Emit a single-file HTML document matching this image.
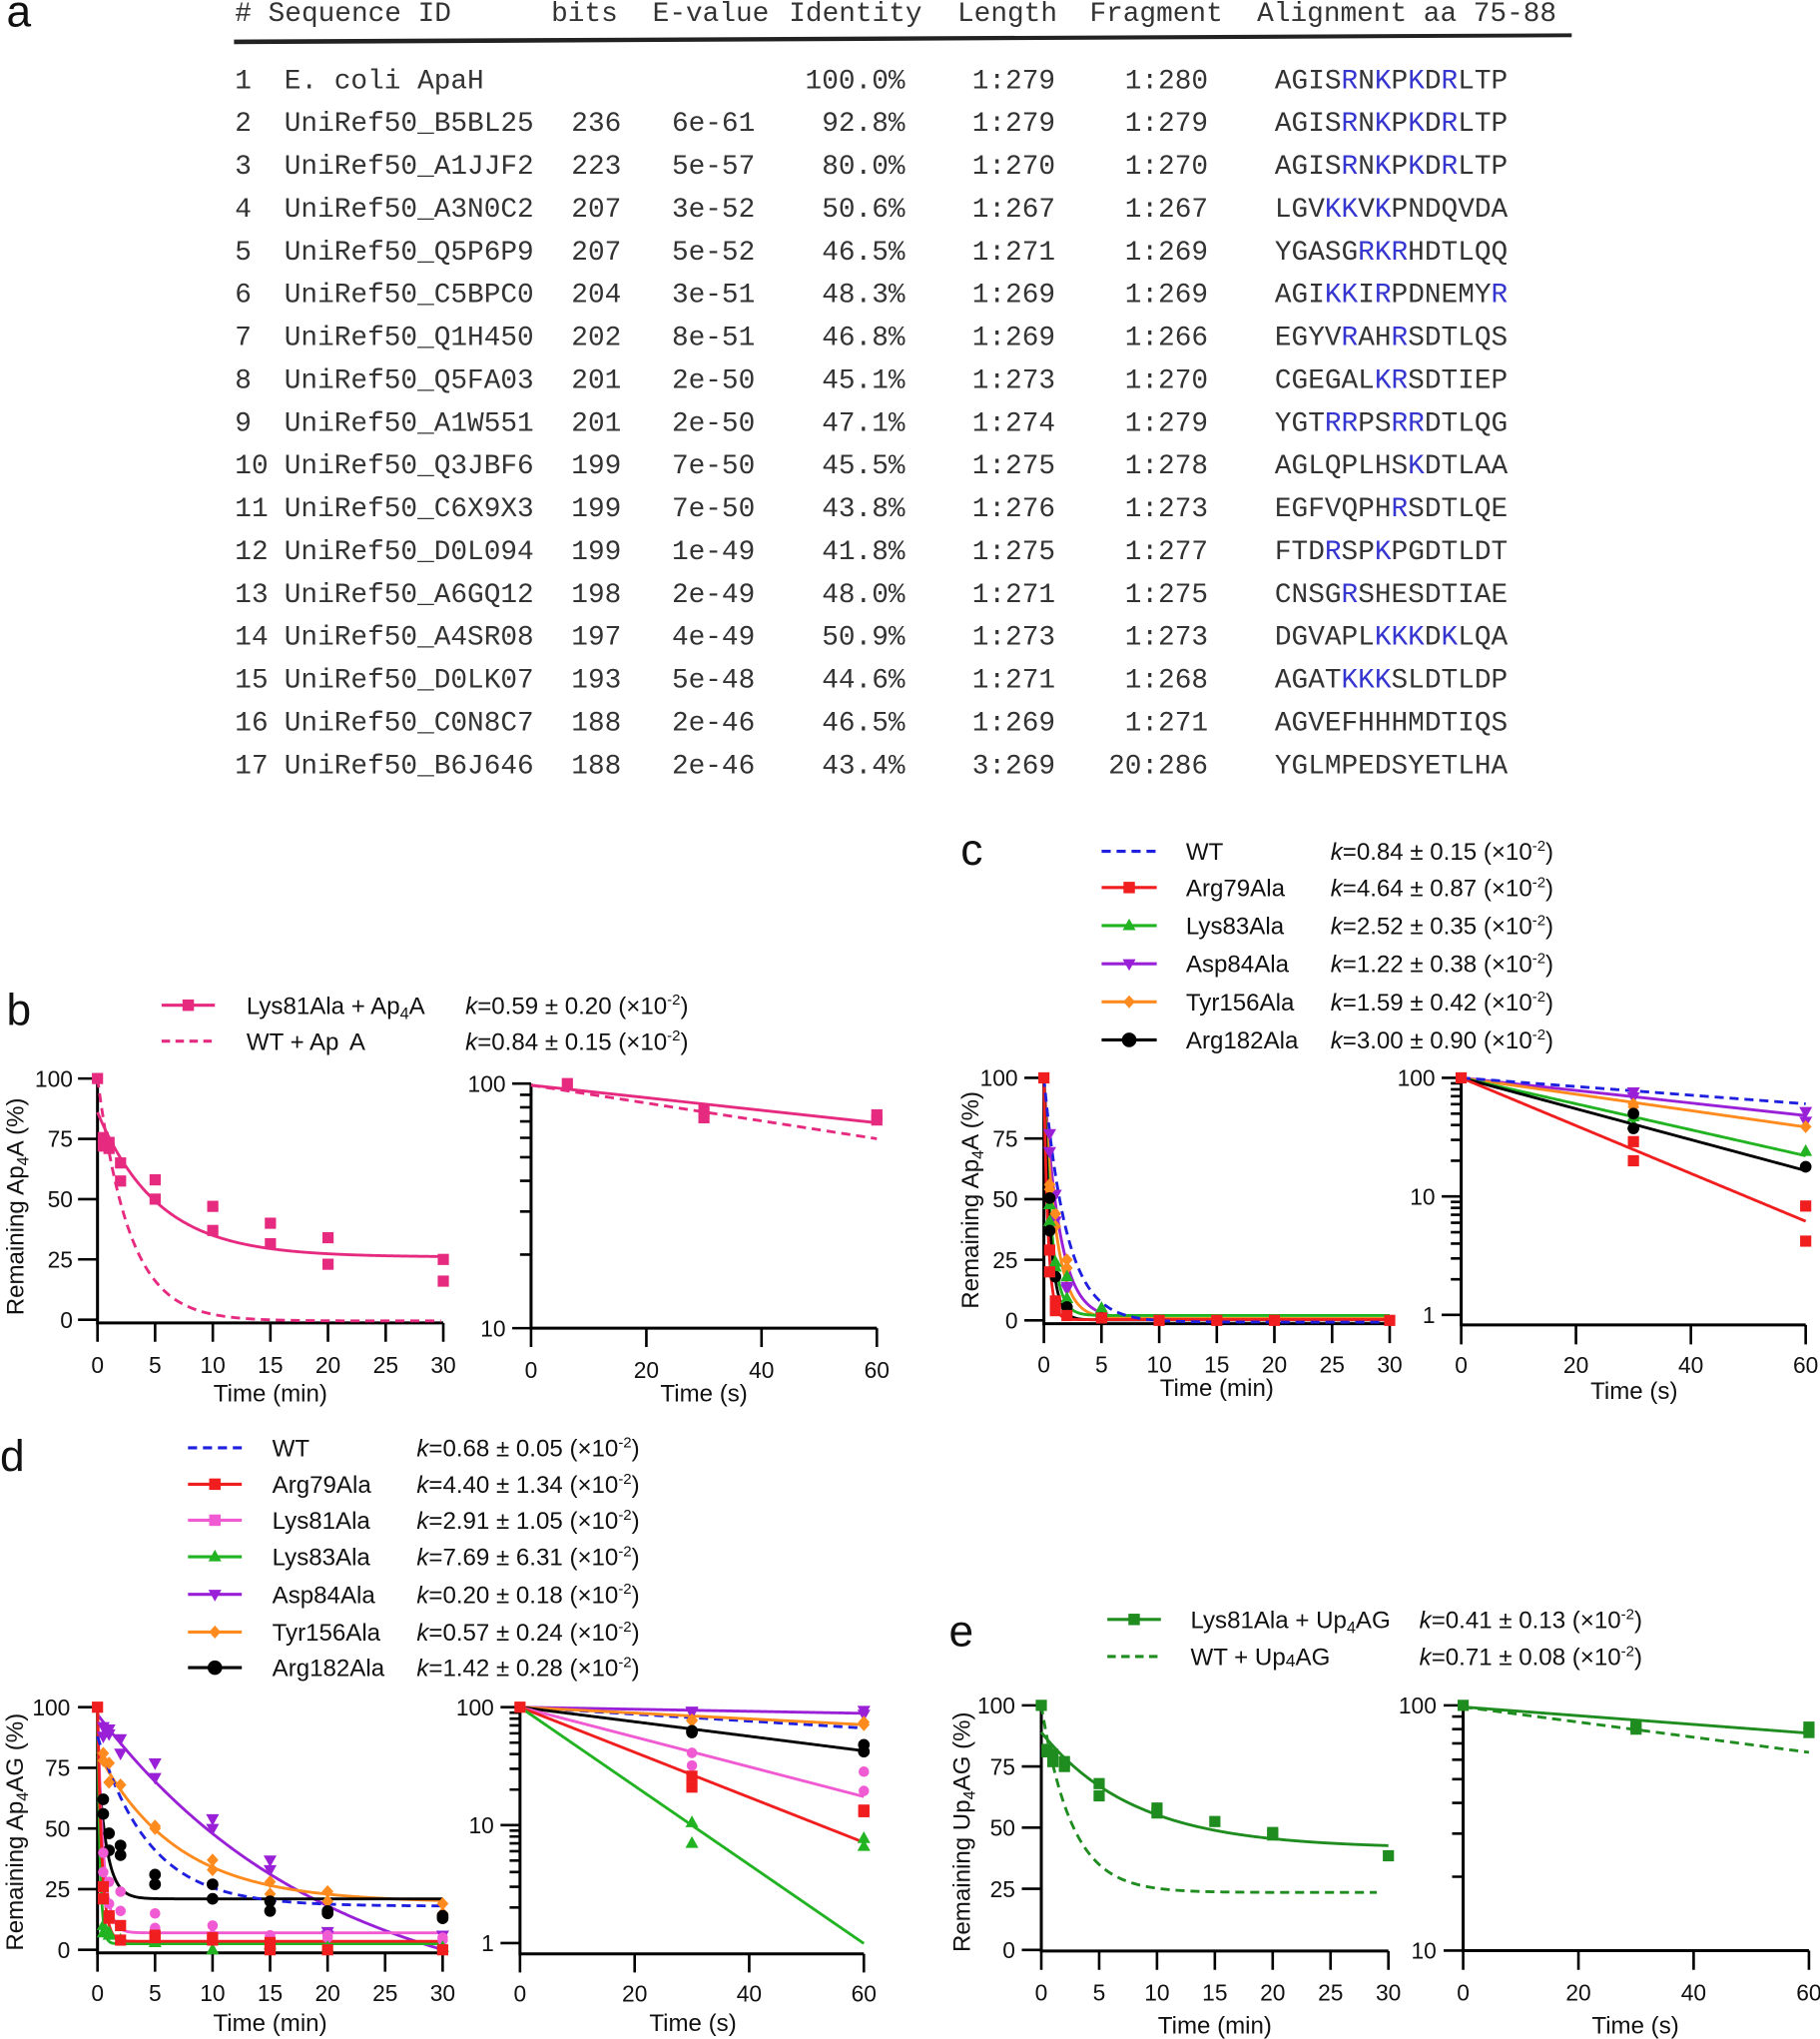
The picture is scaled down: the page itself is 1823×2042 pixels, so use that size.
<!DOCTYPE html>
<html><head><meta charset="utf-8">
<style>
html,body{margin:0;padding:0;background:#fff;}
svg{display:block;}
.t{font-family:"Liberation Mono","Courier New",monospace;font-size:21.33px;fill:#333;}
.b{fill:#3535d0;}
.s{font-family:"Liberation Sans",Arial,sans-serif;fill:#111;}
.tk{font-size:17.5px;}
.ti{font-size:18.5px;}
.lg{font-size:18.5px;}
.pl{font-size:34px;}
.ax{fill:none;stroke:#000;stroke-width:2.3;}
.tm{fill:none;stroke:#000;stroke-width:2;}
</style></head><body>
<svg width="1823" height="2042" viewBox="0 0 1400 1568.2" xmlns="http://www.w3.org/2000/svg">
<rect x="0" y="0" width="1400" height="1568.2" fill="#fff"/>

<!-- Panel letters -->
<text class="s pl" x="5" y="20.5">a</text>
<text class="s pl" x="5" y="788.5">b</text>
<text class="s pl" x="739" y="665">c</text>
<text class="s pl" x="0" y="1131.7">d</text>
<text class="s pl" x="730" y="1266">e</text>

<!-- Table -->
<text class="t" y="16"><tspan x="180.7">#</tspan><tspan x="206.3">Sequence ID</tspan><tspan x="424">bits</tspan><tspan x="502">E-value</tspan><tspan x="606.9">Identity</tspan><tspan x="736.5">Length</tspan><tspan x="838.2">Fragment</tspan><tspan x="967">Alignment aa 75-88</tspan></text>
<polygon points="180,30.4 1209,25.6 1209,28.6 180,34" fill="#222"/>

<text class="t" y="67.8"><tspan x="180.7">1</tspan><tspan x="218.7">E. coli ApaH</tspan><tspan x="619.4">100.0%</tspan><tspan x="747.8">1:279</tspan><tspan x="865.3">1:280</tspan><tspan x="980.6">AGIS</tspan><tspan class="b">R</tspan><tspan>N</tspan><tspan class="b">K</tspan><tspan>P</tspan><tspan class="b">K</tspan><tspan>D</tspan><tspan class="b">R</tspan><tspan>LTP</tspan></text>
<text class="t" y="100.73"><tspan x="180.7">2</tspan><tspan x="218.7">UniRef50_B5BL25</tspan><tspan x="439.5">236</tspan><tspan x="516.8">6e-61</tspan><tspan x="632.2">92.8%</tspan><tspan x="747.8">1:279</tspan><tspan x="865.3">1:279</tspan><tspan x="980.6">AGIS</tspan><tspan class="b">R</tspan><tspan>N</tspan><tspan class="b">K</tspan><tspan>P</tspan><tspan class="b">K</tspan><tspan>D</tspan><tspan class="b">R</tspan><tspan>LTP</tspan></text>
<text class="t" y="133.66"><tspan x="180.7">3</tspan><tspan x="218.7">UniRef50_A1JJF2</tspan><tspan x="439.5">223</tspan><tspan x="516.8">5e-57</tspan><tspan x="632.2">80.0%</tspan><tspan x="747.8">1:270</tspan><tspan x="865.3">1:270</tspan><tspan x="980.6">AGIS</tspan><tspan class="b">R</tspan><tspan>N</tspan><tspan class="b">K</tspan><tspan>P</tspan><tspan class="b">K</tspan><tspan>D</tspan><tspan class="b">R</tspan><tspan>LTP</tspan></text>
<text class="t" y="166.59"><tspan x="180.7">4</tspan><tspan x="218.7">UniRef50_A3N0C2</tspan><tspan x="439.5">207</tspan><tspan x="516.8">3e-52</tspan><tspan x="632.2">50.6%</tspan><tspan x="747.8">1:267</tspan><tspan x="865.3">1:267</tspan><tspan x="980.6">LGV</tspan><tspan class="b">KK</tspan><tspan>V</tspan><tspan class="b">K</tspan><tspan>PNDQVDA</tspan></text>
<text class="t" y="199.52"><tspan x="180.7">5</tspan><tspan x="218.7">UniRef50_Q5P6P9</tspan><tspan x="439.5">207</tspan><tspan x="516.8">5e-52</tspan><tspan x="632.2">46.5%</tspan><tspan x="747.8">1:271</tspan><tspan x="865.3">1:269</tspan><tspan x="980.6">YGASG</tspan><tspan class="b">RKR</tspan><tspan>HDTLQQ</tspan></text>
<text class="t" y="232.45"><tspan x="180.7">6</tspan><tspan x="218.7">UniRef50_C5BPC0</tspan><tspan x="439.5">204</tspan><tspan x="516.8">3e-51</tspan><tspan x="632.2">48.3%</tspan><tspan x="747.8">1:269</tspan><tspan x="865.3">1:269</tspan><tspan x="980.6">AGI</tspan><tspan class="b">KK</tspan><tspan>I</tspan><tspan class="b">R</tspan><tspan>PDNEMY</tspan><tspan class="b">R</tspan></text>
<text class="t" y="265.38"><tspan x="180.7">7</tspan><tspan x="218.7">UniRef50_Q1H450</tspan><tspan x="439.5">202</tspan><tspan x="516.8">8e-51</tspan><tspan x="632.2">46.8%</tspan><tspan x="747.8">1:269</tspan><tspan x="865.3">1:266</tspan><tspan x="980.6">EGYV</tspan><tspan class="b">R</tspan><tspan>AH</tspan><tspan class="b">R</tspan><tspan>SDTLQS</tspan></text>
<text class="t" y="298.31"><tspan x="180.7">8</tspan><tspan x="218.7">UniRef50_Q5FA03</tspan><tspan x="439.5">201</tspan><tspan x="516.8">2e-50</tspan><tspan x="632.2">45.1%</tspan><tspan x="747.8">1:273</tspan><tspan x="865.3">1:270</tspan><tspan x="980.6">CGEGAL</tspan><tspan class="b">KR</tspan><tspan>SDTIEP</tspan></text>
<text class="t" y="331.24"><tspan x="180.7">9</tspan><tspan x="218.7">UniRef50_A1W551</tspan><tspan x="439.5">201</tspan><tspan x="516.8">2e-50</tspan><tspan x="632.2">47.1%</tspan><tspan x="747.8">1:274</tspan><tspan x="865.3">1:279</tspan><tspan x="980.6">YGT</tspan><tspan class="b">RR</tspan><tspan>PS</tspan><tspan class="b">RR</tspan><tspan>DTLQG</tspan></text>
<text class="t" y="364.17"><tspan x="180.7">10</tspan><tspan x="218.7">UniRef50_Q3JBF6</tspan><tspan x="439.5">199</tspan><tspan x="516.8">7e-50</tspan><tspan x="632.2">45.5%</tspan><tspan x="747.8">1:275</tspan><tspan x="865.3">1:278</tspan><tspan x="980.6">AGLQPLHS</tspan><tspan class="b">K</tspan><tspan>DTLAA</tspan></text>
<text class="t" y="397.1"><tspan x="180.7">11</tspan><tspan x="218.7">UniRef50_C6X9X3</tspan><tspan x="439.5">199</tspan><tspan x="516.8">7e-50</tspan><tspan x="632.2">43.8%</tspan><tspan x="747.8">1:276</tspan><tspan x="865.3">1:273</tspan><tspan x="980.6">EGFVQPH</tspan><tspan class="b">R</tspan><tspan>SDTLQE</tspan></text>
<text class="t" y="430.03"><tspan x="180.7">12</tspan><tspan x="218.7">UniRef50_D0L094</tspan><tspan x="439.5">199</tspan><tspan x="516.8">1e-49</tspan><tspan x="632.2">41.8%</tspan><tspan x="747.8">1:275</tspan><tspan x="865.3">1:277</tspan><tspan x="980.6">FTD</tspan><tspan class="b">R</tspan><tspan>SP</tspan><tspan class="b">K</tspan><tspan>PGDTLDT</tspan></text>
<text class="t" y="462.96"><tspan x="180.7">13</tspan><tspan x="218.7">UniRef50_A6GQ12</tspan><tspan x="439.5">198</tspan><tspan x="516.8">2e-49</tspan><tspan x="632.2">48.0%</tspan><tspan x="747.8">1:271</tspan><tspan x="865.3">1:275</tspan><tspan x="980.6">CNSG</tspan><tspan class="b">R</tspan><tspan>SHESDTIAE</tspan></text>
<text class="t" y="495.89"><tspan x="180.7">14</tspan><tspan x="218.7">UniRef50_A4SR08</tspan><tspan x="439.5">197</tspan><tspan x="516.8">4e-49</tspan><tspan x="632.2">50.9%</tspan><tspan x="747.8">1:273</tspan><tspan x="865.3">1:273</tspan><tspan x="980.6">DGVAPL</tspan><tspan class="b">KKK</tspan><tspan>D</tspan><tspan class="b">K</tspan><tspan>LQA</tspan></text>
<text class="t" y="528.82"><tspan x="180.7">15</tspan><tspan x="218.7">UniRef50_D0LK07</tspan><tspan x="439.5">193</tspan><tspan x="516.8">5e-48</tspan><tspan x="632.2">44.6%</tspan><tspan x="747.8">1:271</tspan><tspan x="865.3">1:268</tspan><tspan x="980.6">AGAT</tspan><tspan class="b">KKK</tspan><tspan>SLDTLDP</tspan></text>
<text class="t" y="561.75"><tspan x="180.7">16</tspan><tspan x="218.7">UniRef50_C0N8C7</tspan><tspan x="439.5">188</tspan><tspan x="516.8">2e-46</tspan><tspan x="632.2">46.5%</tspan><tspan x="747.8">1:269</tspan><tspan x="865.3">1:271</tspan><tspan x="980.6">AGVEFHHHMDTIQS</tspan></text>
<text class="t" y="594.68"><tspan x="180.7">17</tspan><tspan x="218.7">UniRef50_B6J646</tspan><tspan x="439.5">188</tspan><tspan x="516.8">2e-46</tspan><tspan x="632.2">43.4%</tspan><tspan x="747.8">3:269</tspan><tspan x="852.5">20:286</tspan><tspan x="980.6">YGLMPEDSYETLHA</tspan></text>

<!-- ===== Legends ===== -->
<!-- b -->
<path d="M124.3 773.1H165.3" stroke="#e62a80" stroke-width="2.4"/>
<rect x="140.4" y="768.7" width="8.8" height="8.8" fill="#e62a80"/>
<path d="M124.3 800.8H165.3" stroke="#e62a80" stroke-width="2.4" stroke-dasharray="6.5,4.2"/>
<text class="s lg" x="189.6" y="779.7">Lys81Ala + Ap<tspan font-size="12.5" dy="4">4</tspan><tspan dy="-4">A</tspan></text>
<text class="s lg" x="189.6" y="807.4">WT + Ap<tspan dx="8">A</tspan></text>
<text class="s lg" x="358" y="779.7"><tspan font-style="italic">k</tspan>=0.59 ± 0.20 (×10<tspan font-size="11.5" dy="-7">-2</tspan><tspan dy="7">)</tspan></text>
<text class="s lg" x="358" y="807.4"><tspan font-style="italic">k</tspan>=0.84 ± 0.15 (×10<tspan font-size="11.5" dy="-7">-2</tspan><tspan dy="7">)</tspan></text>

<!-- c -->
<path d="M847.4 654.7H889.8" stroke="#1f1fe0" stroke-width="2.4" stroke-dasharray="7,4.5"/>
<path d="M847.4 682.6H889.8" stroke="#f01e1e" stroke-width="2.4"/>
<rect x="864.2" y="678.2" width="8.8" height="8.8" fill="#f01e1e"/>
<path d="M847.4 711.9H889.8" stroke="#22b322" stroke-width="2.4"/>
<polygon points="868.6,706.4 863.6,715.4 873.6,715.4" fill="#22b322"/>
<path d="M847.4 741.2H889.8" stroke="#9a20d8" stroke-width="2.4"/>
<polygon points="868.6,746.7 863.6,737.7 873.6,737.7" fill="#9a20d8"/>
<path d="M847.4 770.5H889.8" stroke="#ff8a1e" stroke-width="2.4"/>
<polygon points="868.6,765.5 873.1,770.5 868.6,775.5 864.1,770.5" fill="#ff8a1e"/>
<path d="M847.4 799.8H889.8" stroke="#000" stroke-width="2.4"/>
<circle cx="868.6" cy="799.8" r="5.6" fill="#000"/>
<text class="s lg" x="912.3" y="661.3">WT</text>
<text class="s lg" x="912.3" y="689.2">Arg79Ala</text>
<text class="s lg" x="912.3" y="718.5">Lys83Ala</text>
<text class="s lg" x="912.3" y="747.8">Asp84Ala</text>
<text class="s lg" x="912.3" y="777.1">Tyr156Ala</text>
<text class="s lg" x="912.3" y="806.4">Arg182Ala</text>
<text class="s lg" x="1023.5" y="661.3"><tspan font-style="italic">k</tspan>=0.84 ± 0.15 (×10<tspan font-size="11.5" dy="-7">-2</tspan><tspan dy="7">)</tspan></text>
<text class="s lg" x="1023.5" y="689.2"><tspan font-style="italic">k</tspan>=4.64 ± 0.87 (×10<tspan font-size="11.5" dy="-7">-2</tspan><tspan dy="7">)</tspan></text>
<text class="s lg" x="1023.5" y="718.5"><tspan font-style="italic">k</tspan>=2.52 ± 0.35 (×10<tspan font-size="11.5" dy="-7">-2</tspan><tspan dy="7">)</tspan></text>
<text class="s lg" x="1023.5" y="747.8"><tspan font-style="italic">k</tspan>=1.22 ± 0.38 (×10<tspan font-size="11.5" dy="-7">-2</tspan><tspan dy="7">)</tspan></text>
<text class="s lg" x="1023.5" y="777.1"><tspan font-style="italic">k</tspan>=1.59 ± 0.42 (×10<tspan font-size="11.5" dy="-7">-2</tspan><tspan dy="7">)</tspan></text>
<text class="s lg" x="1023.5" y="806.4"><tspan font-style="italic">k</tspan>=3.00 ± 0.90 (×10<tspan font-size="11.5" dy="-7">-2</tspan><tspan dy="7">)</tspan></text>

<!-- d -->
<path d="M144.6 1113.5H186" stroke="#1f1fe0" stroke-width="2.4" stroke-dasharray="7,4.5"/>
<path d="M144.6 1141.5H186" stroke="#f01e1e" stroke-width="2.4"/>
<rect x="160.9" y="1137.1" width="8.8" height="8.8" fill="#f01e1e"/>
<path d="M144.6 1169.2H186" stroke="#f05ad2" stroke-width="2.4"/>
<rect x="160.9" y="1164.8" width="8.8" height="8.8" fill="#f05ad2"/>
<path d="M144.6 1197.3H186" stroke="#22b322" stroke-width="2.4"/>
<polygon points="165.3,1191.8 160.3,1200.8 170.3,1200.8" fill="#22b322"/>
<path d="M144.6 1226.2H186" stroke="#9a20d8" stroke-width="2.4"/>
<polygon points="165.3,1231.7 160.3,1222.7 170.3,1222.7" fill="#9a20d8"/>
<path d="M144.6 1255.2H186" stroke="#ff8a1e" stroke-width="2.4"/>
<polygon points="165.3,1250.2 169.8,1255.2 165.3,1260.2 160.8,1255.2" fill="#ff8a1e"/>
<path d="M144.6 1282.6H186" stroke="#000" stroke-width="2.4"/>
<circle cx="165.3" cy="1282.6" r="5.6" fill="#000"/>
<text class="s lg" x="209.4" y="1120.1">WT</text>
<text class="s lg" x="209.4" y="1148.1">Arg79Ala</text>
<text class="s lg" x="209.4" y="1175.8">Lys81Ala</text>
<text class="s lg" x="209.4" y="1203.9">Lys83Ala</text>
<text class="s lg" x="209.4" y="1232.8">Asp84Ala</text>
<text class="s lg" x="209.4" y="1261.8">Tyr156Ala</text>
<text class="s lg" x="209.4" y="1289.2">Arg182Ala</text>
<text class="s lg" x="320.5" y="1120.1"><tspan font-style="italic">k</tspan>=0.68 ± 0.05 (×10<tspan font-size="11.5" dy="-7">-2</tspan><tspan dy="7">)</tspan></text>
<text class="s lg" x="320.5" y="1148.1"><tspan font-style="italic">k</tspan>=4.40 ± 1.34 (×10<tspan font-size="11.5" dy="-7">-2</tspan><tspan dy="7">)</tspan></text>
<text class="s lg" x="320.5" y="1175.8"><tspan font-style="italic">k</tspan>=2.91 ± 1.05 (×10<tspan font-size="11.5" dy="-7">-2</tspan><tspan dy="7">)</tspan></text>
<text class="s lg" x="320.5" y="1203.9"><tspan font-style="italic">k</tspan>=7.69 ± 6.31 (×10<tspan font-size="11.5" dy="-7">-2</tspan><tspan dy="7">)</tspan></text>
<text class="s lg" x="320.5" y="1232.8"><tspan font-style="italic">k</tspan>=0.20 ± 0.18 (×10<tspan font-size="11.5" dy="-7">-2</tspan><tspan dy="7">)</tspan></text>
<text class="s lg" x="320.5" y="1261.8"><tspan font-style="italic">k</tspan>=0.57 ± 0.24 (×10<tspan font-size="11.5" dy="-7">-2</tspan><tspan dy="7">)</tspan></text>
<text class="s lg" x="320.5" y="1289.2"><tspan font-style="italic">k</tspan>=1.42 ± 0.28 (×10<tspan font-size="11.5" dy="-7">-2</tspan><tspan dy="7">)</tspan></text>

<!-- e -->
<path d="M851.8 1245.5H893" stroke="#1e8c1e" stroke-width="2.4"/>
<rect x="868" y="1241.1" width="8.8" height="8.8" fill="#1e8c1e"/>
<path d="M851.8 1274H893" stroke="#1e8c1e" stroke-width="2.4" stroke-dasharray="6.5,4.2"/>
<text class="s lg" x="915.8" y="1252.1">Lys81Ala + Up<tspan font-size="12.5" dy="4">4</tspan><tspan dy="-4">AG</tspan></text>
<text class="s lg" x="915.8" y="1280.6">WT + Up<tspan font-size="13.5" dy="1">4</tspan><tspan dy="-1">AG</tspan></text>
<text class="s lg" x="1091.8" y="1252.1"><tspan font-style="italic">k</tspan>=0.41 ± 0.13 (×10<tspan font-size="11.5" dy="-7">-2</tspan><tspan dy="7">)</tspan></text>
<text class="s lg" x="1091.8" y="1280.6"><tspan font-style="italic">k</tspan>=0.71 ± 0.08 (×10<tspan font-size="11.5" dy="-7">-2</tspan><tspan dy="7">)</tspan></text>

<!-- ===== Axes ===== -->
<!-- b left -->
<path class="ax" d="M75 829.5V1017.5H341"/>
<path class="tm" d="M60 829.5H75M60 875.9H75M60 922.3H75M60 968.6H75M60 1015H75M75 1017.5V1032M119.3 1017.5V1032M163.7 1017.5V1032M208 1017.5V1032M252.3 1017.5V1032M296.7 1017.5V1032M341 1017.5V1032"/>
<g class="s tk" text-anchor="end">
<text x="56" y="835.8">100</text><text x="56" y="882.2">75</text><text x="56" y="928.6">50</text><text x="56" y="974.9">25</text><text x="56" y="1021.3">0</text>
</g>
<g class="s tk" text-anchor="middle">
<text x="75" y="1056">0</text><text x="119.3" y="1056">5</text><text x="163.7" y="1056">10</text><text x="208" y="1056">15</text><text x="252.3" y="1056">20</text><text x="296.7" y="1056">25</text><text x="341" y="1056">30</text>
</g>
<text class="s ti" x="208" y="1078" text-anchor="middle">Time (min)</text>
<text class="s ti" transform="translate(18,928) rotate(-90)" text-anchor="middle">Remaining Ap<tspan font-size="12.5" dy="4">4</tspan><tspan dy="-4">A (%)</tspan></text>

<!-- b right -->
<path class="ax" d="M408.5 833.4V1021.5H674.5"/>
<path class="tm" d="M394 833.4H408.5M394 1021.5H408.5M400 842H408.5M400 851.6H408.5M400 862.5H408.5M400 875.1H408.5M400 890H408.5M400 908.2H408.5M400 931.8H408.5M400 964.9H408.5M408.5 1021.5V1036M497.2 1021.5V1036M585.8 1021.5V1036M674.5 1021.5V1036"/>
<g class="s tk" text-anchor="end"><text x="389" y="839.7">100</text><text x="389" y="1027.8">10</text></g>
<g class="s tk" text-anchor="middle"><text x="408.5" y="1060">0</text><text x="497.2" y="1060">20</text><text x="585.8" y="1060">40</text><text x="674.5" y="1060">60</text></g>
<text class="s ti" x="541.5" y="1078" text-anchor="middle">Time (s)</text>

<!-- c left -->
<path class="ax" d="M803 829V1018H1069"/>
<path class="tm" d="M788 829H803M788 875.6H803M788 922.3H803M788 968.9H803M788 1015.5H803M803 1018V1033M847.3 1018V1033M891.7 1018V1033M936 1018V1033M980.3 1018V1033M1024.7 1018V1033M1069 1018V1033"/>
<g class="s tk" text-anchor="end">
<text x="783" y="835.3">100</text><text x="783" y="881.9">75</text><text x="783" y="928.6">50</text><text x="783" y="975.2">25</text><text x="783" y="1021.8">0</text>
</g>
<g class="s tk" text-anchor="middle">
<text x="803" y="1055.5">0</text><text x="847.3" y="1055.5">5</text><text x="891.7" y="1055.5">10</text><text x="936" y="1055.5">15</text><text x="980.3" y="1055.5">20</text><text x="1024.7" y="1055.5">25</text><text x="1069" y="1055.5">30</text>
</g>
<text class="s ti" x="936" y="1073.5" text-anchor="middle">Time (min)</text>
<text class="s ti" transform="translate(752.5,923) rotate(-90)" text-anchor="middle">Remaining Ap<tspan font-size="12.5" dy="4">4</tspan><tspan dy="-4">A (%)</tspan></text>

<!-- c right -->
<path class="ax" d="M1124 829V1019H1389"/>
<path class="tm" d="M1109 829H1124M1109 920.2H1124M1109 1011.3H1124M1116 833.2H1124M1116 837.8H1124M1116 843.1H1124M1116 849.2H1124M1116 856.5H1124M1116 865.3H1124M1116 876.7H1124M1116 892.7H1124M1116 924.4H1124M1116 929H1124M1116 934.3H1124M1116 940.4H1124M1116 947.7H1124M1116 956.5H1124M1116 967.9H1124M1116 983.9H1124M1124 1019V1034M1212.3 1019V1034M1300.7 1019V1034M1389 1019V1034"/>
<g class="s tk" text-anchor="end"><text x="1104" y="835.3">100</text><text x="1104" y="926.5">10</text><text x="1104" y="1017.6">1</text></g>
<g class="s tk" text-anchor="middle"><text x="1124" y="1056">0</text><text x="1212.3" y="1056">20</text><text x="1300.7" y="1056">40</text><text x="1389" y="1056">60</text></g>
<text class="s ti" x="1257" y="1076" text-anchor="middle">Time (s)</text>

<!-- d left -->
<path class="ax" d="M75 1313V1502H340.5"/>
<path class="tm" d="M60 1313H75M60 1359.65H75M60 1406.3H75M60 1452.95H75M60 1499.6H75M75 1502V1516.5M119.25 1502V1516.5M163.5 1502V1516.5M207.75 1502V1516.5M252 1502V1516.5M296.25 1502V1516.5M340.5 1502V1516.5"/>
<g class="s tk" text-anchor="end">
<text x="54" y="1319.3">100</text><text x="54" y="1366">75</text><text x="54" y="1412.6">50</text><text x="54" y="1459.3">25</text><text x="54" y="1505.9">0</text>
</g>
<g class="s tk" text-anchor="middle">
<text x="75" y="1539">0</text><text x="119.25" y="1539">5</text><text x="163.5" y="1539">10</text><text x="207.75" y="1539">15</text><text x="252" y="1539">20</text><text x="296.25" y="1539">25</text><text x="340.5" y="1539">30</text>
</g>
<text class="s ti" x="207.75" y="1562" text-anchor="middle">Time (min)</text>
<text class="s ti" transform="translate(17.5,1409) rotate(-90)" text-anchor="middle">Remaining Ap<tspan font-size="12.5" dy="4">4</tspan><tspan dy="-4">AG (%)</tspan></text>

<!-- d right -->
<path class="ax" d="M400 1313V1502.7H664.5"/>
<path class="tm" d="M385 1313H400M385 1403.7H400M385 1494.4H400M392 1317.2H400M392 1321.8H400M392 1327H400M392 1333.1H400M392 1340.3H400M392 1349.1H400M392 1360.4H400M392 1376.4H400M392 1407.9H400M392 1412.5H400M392 1417.7H400M392 1423.8H400M392 1431H400M392 1439.8H400M392 1451.1H400M392 1467.1H400M400 1502.7V1517M488.2 1502.7V1517M576.3 1502.7V1517M664.5 1502.7V1517"/>
<g class="s tk" text-anchor="end"><text x="380" y="1319.3">100</text><text x="380" y="1410">10</text><text x="380" y="1500.7">1</text></g>
<g class="s tk" text-anchor="middle"><text x="400" y="1539.5">0</text><text x="488.2" y="1539.5">20</text><text x="576.3" y="1539.5">40</text><text x="664.5" y="1539.5">60</text></g>
<text class="s ti" x="533" y="1562" text-anchor="middle">Time (s)</text>

<!-- e left -->
<path class="ax" d="M801 1311.6V1500.5H1068"/>
<path class="tm" d="M786 1311.6H801M786 1358.6H801M786 1405.65H801M786 1452.7H801M786 1499.7H801M801 1500.5V1515M845.5 1500.5V1515M890 1500.5V1515M934.5 1500.5V1515M979 1500.5V1515M1023.5 1500.5V1515M1068 1500.5V1515"/>
<g class="s tk" text-anchor="end">
<text x="781" y="1317.9">100</text><text x="781" y="1364.9">75</text><text x="781" y="1412">50</text><text x="781" y="1459">25</text><text x="781" y="1506">0</text>
</g>
<g class="s tk" text-anchor="middle">
<text x="801" y="1538.5">0</text><text x="845.5" y="1538.5">5</text><text x="890" y="1538.5">10</text><text x="934.5" y="1538.5">15</text><text x="979" y="1538.5">20</text><text x="1023.5" y="1538.5">25</text><text x="1068" y="1538.5">30</text>
</g>
<text class="s ti" x="934.5" y="1564" text-anchor="middle">Time (min)</text>
<text class="s ti" transform="translate(746,1409) rotate(-90)" text-anchor="middle">Remaining Up<tspan font-size="12.5" dy="4">4</tspan><tspan dy="-4">AG (%)</tspan></text>

<!-- e right -->
<path class="ax" d="M1125.5 1311.6V1500.2H1391.5"/>
<path class="tm" d="M1110.5 1311.6H1125.5M1110.5 1500.2H1125.5M1117 1320.2H1125.5M1117 1329.9H1125.5M1117 1340.8H1125.5M1117 1353.4H1125.5M1117 1368.4H1125.5M1117 1386.6H1125.5M1117 1410.2H1125.5M1117 1443.4H1125.5M1125.5 1500.2V1515M1214.2 1500.2V1515M1302.8 1500.2V1515M1391.5 1500.2V1515"/>
<g class="s tk" text-anchor="end"><text x="1105" y="1317.9">100</text><text x="1105" y="1506.5">10</text></g>
<g class="s tk" text-anchor="middle"><text x="1125.5" y="1538.5">0</text><text x="1214.2" y="1538.5">20</text><text x="1302.8" y="1538.5">40</text><text x="1391.5" y="1538.5">60</text></g>
<text class="s ti" x="1258" y="1564" text-anchor="middle">Time (s)</text>

<g id="data"></g>
</svg>
<script>
(function(){
var NS='http://www.w3.org/2000/svg';
var G=document.getElementById('data');
function el(tag,a){var e=document.createElementNS(NS,tag);for(var k in a)e.setAttribute(k,a[k]);G.appendChild(e);return e;}
function LIN(x0,x1,y0,y100){return {X:function(t){return x0+t/30*(x1-x0);},Y:function(v){return y0-v/100*(y0-y100);}};}
function LOG(x0,x1,y100,dec){return {X:function(t){return x0+t/60*(x1-x0);},Y:function(v){return y100+(2-Math.log10(v))*dec;}};}
function curve(m,f,t1,col,dash){var d='';var n=300;for(var i=0;i<=n;i++){var t=t1*i/n;d+=(i?'L':'M')+m.X(t).toFixed(2)+' '+m.Y(f(t)).toFixed(2);}var a={d:d,fill:'none',stroke:col,'stroke-width':2.2};if(dash)a['stroke-dasharray']=dash;el('path',a);}
function mk(type,x,y,col,s){s=s||1;
 if(type==='sq'){el('rect',{x:x-4.3*s,y:y-4.3*s,width:8.6*s,height:8.6*s,fill:col});}
 else if(type==='up'){el('polygon',{points:x+','+(y-5.5*s)+' '+(x-5*s)+','+(y+3.5*s)+' '+(x+5*s)+','+(y+3.5*s),fill:col});}
 else if(type==='dn'){el('polygon',{points:x+','+(y+5.5*s)+' '+(x-5*s)+','+(y-3.5*s)+' '+(x+5*s)+','+(y-3.5*s),fill:col});}
 else if(type==='di'){el('polygon',{points:x+','+(y-5*s)+' '+(x+4.5*s)+','+y+' '+x+','+(y+5*s)+' '+(x-4.5*s)+','+y,fill:col});}
 else if(type==='ci'){el('circle',{cx:x,cy:y,r:4.5*s,fill:col});}
}
function pts(m,type,col,arr,s){for(var i=0;i<arr.length;i++)mk(type,m.X(arr[i][0]),m.Y(arr[i][1]),col,s);}
var E=Math.exp;
var PB='#e62a80',BL='#1f1fe0',RD='#f01e1e',PK='#f05ad2',GR='#22b322',PU='#9a20d8',OR='#ff8a1e',BK='#000000',GE='#1e8c1e';
var DA='7,4.5';

var bL=LIN(75,341,1015,829.5), bR=LOG(408.5,674.5,833.4,188.1);
var cL=LIN(803,1069,1015.5,829), cR=LOG(1124,1389,829,91.2);
var dL=LIN(75,340.5,1499.6,1313), dR=LOG(400,664.5,1313,90.7);
var eL=LIN(801,1068,1499.7,1311.6), eR=LOG(1125.5,1391.5,1311.6,188.6);

/* b */
curve(bL,function(t){return -0.5+100.5*E(-0.36*t);},29.8,PB,DA);
curve(bL,function(t){return 26+60*E(-0.19*t);},30,PB);
pts(bL,'sq',PB,[[0,100],[0.5,75.5],[0.5,72],[1,73.5],[1,71],[2,65],[2,57.5],[5,58],[5,50],[10,47],[10,37],[15,40],[15,31.5],[20,34],[20,23],[30,25],[30,16]]);
curve(bR,function(t){return 98.5*E(-0.0084*t);},60,PB,DA);
curve(bR,function(t){return 98.5*E(-0.0059*t);},60,PB);
pts(bR,'sq',PB,[[6.3,100],[30,78],[30,72.5],[60,74.5],[60,71]]);

/* c left */
curve(cL,function(t){return 0.5+99.5*E(-0.732*t);},30,PU);
curve(cL,function(t){return 0.8+99.2*E(-0.954*t);},30,OR);
curve(cL,function(t){return 2+98*E(-1.51*t);},30,GR);
curve(cL,function(t){return 0.2+99.8*E(-1.8*t);},30,BK);
curve(cL,function(t){return 0.3+99.7*E(-2.78*t);},30,RD);
curve(cL,function(t){return -0.7+100.7*E(-0.504*t);},30,BL,DA);
pts(cL,'dn',PU,[[0.5,77],[0.5,69.6],[1,52],[1,41],[2,14],[2,13],[5,1.5]]);
pts(cL,'di',OR,[[0.5,56],[0.5,54],[1,44],[1,38.8],[2,25],[2,21.6],[5,4]]);
pts(cL,'up',GR,[[0.5,47.7],[0.5,40.8],[1,24],[1,22],[2,18],[2,9],[5,5],[5,4]]);
pts(cL,'ci',BK,[[0.5,50.4],[0.5,37],[1,18],[2,5.5],[5,1]]);
pts(cL,'sq',RD,[[0,100],[0.5,29],[0.5,20],[1,8],[1,4],[2,2],[5,1],[10,0],[15,0],[20,0],[30,0]]);

/* c right */
curve(cR,function(t){return 100*E(-0.0122*t);},60,PU);
curve(cR,function(t){return 100*E(-0.0159*t);},60,OR);
curve(cR,function(t){return 100*E(-0.0252*t);},60,GR);
curve(cR,function(t){return 100*E(-0.0300*t);},60,BK);
curve(cR,function(t){return 100*E(-0.0464*t);},60,RD);
curve(cR,function(t){return 100*E(-0.0084*t);},60,BL,DA);
pts(cR,'dn',PU,[[30,76],[30,69],[60,52],[60,43]]);
pts(cR,'di',OR,[[30,60],[30,57],[60,38.7]]);
pts(cR,'up',GR,[[30,47],[30,40],[60,24]]);
pts(cR,'ci',BK,[[30,50],[30,37.5],[60,17.8]]);
pts(cR,'sq',RD,[[0,100],[30,29],[30,20],[60,8.3],[60,4.2]]);

/* d left */
curve(dL,function(t){return -27.8+124.8*E(-0.05*t);},30,PU);
curve(dL,function(t){return 19.5+62*E(-0.145*t);},30,OR);
curve(dL,function(t){return 21+60*E(-1.3*t);},30,BK);
curve(dL,function(t){return 7+93*E(-2.0*t);},30,PK);
curve(dL,function(t){return 2.5+97.5*E(-4.6*t);},30,GR);
curve(dL,function(t){return 3.5+96.5*E(-2.64*t);},30,RD);
curve(dL,function(t){return 18+70*E(-0.222*t);},30,BL,DA);
pts(dL,'dn',PU,[[0.5,92],[0.5,88],[1,91],[1,89],[2,87],[2,81],[5,77],[5,71],[10,54],[10,50],[15,37],[15,33],[20,7.5],[20,6],[30,6]]);
pts(dL,'di',OR,[[0.5,81],[0.5,78],[1,77],[1,69],[2,68],[5,51],[5,50],[10,37],[10,33],[15,28],[15,23],[20,24],[20,20],[30,19],[30,15]]);
pts(dL,'ci',BK,[[0.5,62],[0.5,56],[1,48],[1,41],[2,43],[2,39],[5,31],[5,27],[10,27],[10,21],[15,20],[15,16],[20,16],[20,15],[30,14],[30,13]]);
pts(dL,'ci',PK,[[0.5,40],[0.5,32],[1,28],[1,19],[2,24],[2,16],[5,15],[5,9],[10,10],[10,6],[15,6],[15,5],[20,6],[20,5],[30,5],[30,4]],0.9);
pts(dL,'up',GR,[[0.5,10],[0.5,7],[1,7],[1,6],[2,4],[5,3],[10,0],[15,2],[20,1],[30,1]]);
pts(dL,'sq',RD,[[0,100],[0.5,26],[0.5,21],[1,14],[1,13],[2,10],[2,4],[5,6],[5,5],[10,5],[10,4],[15,3],[15,0],[20,0],[30,0]]);

/* d right */
curve(dR,function(t){return 100*E(-0.0020*t);},60,PU);
curve(dR,function(t){return 100*E(-0.0068*t);},60,BL,DA);
curve(dR,function(t){return 100*E(-0.0057*t);},60,OR);
curve(dR,function(t){return 100*E(-0.0142*t);},60,BK);
curve(dR,function(t){return 100*E(-0.0291*t);},60,PK);
curve(dR,function(t){return 100*E(-0.0440*t);},60,RD);
curve(dR,function(t){return 100*E(-0.0769*t);},60,GR);
pts(dR,'dn',PU,[[30,92.5],[30,90],[60,94],[60,87]]);
pts(dR,'di',OR,[[30,78],[30,76.5],[60,74.5],[60,71]]);
pts(dR,'ci',BK,[[30,63],[30,61],[60,48],[60,42]]);
pts(dR,'ci',PK,[[30,41],[30,32],[60,28.4],[60,19.5]],0.9);
pts(dR,'up',GR,[[30,10.5],[30,7],[60,7.7],[60,6.6]]);
pts(dR,'sq',RD,[[0,100],[30,26],[30,21],[60,13.4],[60,13]]);

/* e */
curve(eL,function(t){return 23.5+76.5*E(-0.38*t);},29,GE,DA);
curve(eL,function(t){return 41.5+47.5*E(-0.124*t);},30,GE);
pts(eL,'sq',GE,[[0,100],[0.5,82],[0.5,81],[1,80],[1,77],[2,77],[2,75],[5,68],[5,63],[10,58],[10,56],[15,52.5],[20,48],[20,47],[30,38.5]]);
curve(eR,function(t){return 98.5*E(-0.0071*t);},60,GE,DA);
curve(eR,function(t){return 98.5*E(-0.0041*t);},60,GE);
pts(eR,'sq',GE,[[0,100],[30,82.6],[30,80],[60,81.5],[60,77.5]]);
})();
</script>
</body></html>
